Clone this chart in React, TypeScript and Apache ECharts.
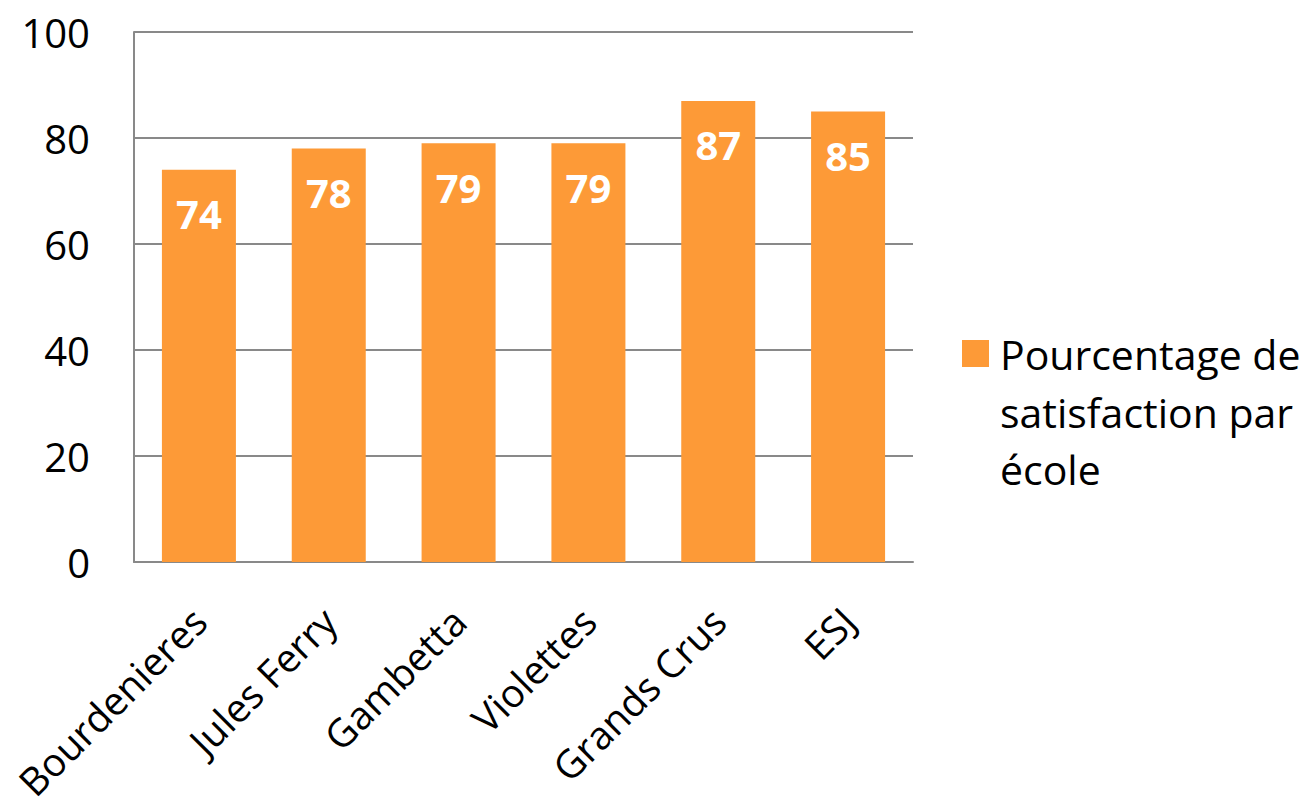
import React, { useEffect, useRef } from "react";
import * as echarts from "echarts";

const categories = ["Bourdenieres", "Jules Ferry", "Gambetta", "Violettes", "Grands Crus", "ESJ"];
const values = [74, 78, 79, 79, 87, 85];
const seriesName = "Pourcentage de satisfaction par école";
const legendLines = ["Pourcentage de", "satisfaction par", "école"];

const FONT = "'Open Sans', sans-serif";

export default function App() {
  const ref = useRef<HTMLDivElement>(null);
  useEffect(() => {
    if (!ref.current) return;
    const chart = echarts.init(ref.current, null, { renderer: "svg" });
    chart.setOption({
      animation: false,
      textStyle: { fontFamily: FONT },
      grid: { left: 134, top: 32, right: 399, bottom: 244, containLabel: false },
      legend: {
        show: true,
        left: 962,
        top: 333,
        padding: 0,
        orient: "vertical",
        icon: "rect",
        itemWidth: 27,
        itemHeight: 27,
        formatter: () => legendLines[0],
        textStyle: {
          fontFamily: FONT,
          fontSize: 41,
          color: "#000",
          padding: [0, 0, 0, 6],
        },
        data: [seriesName],
      },
      graphic: legendLines.slice(1).map((line, i) => ({
        type: "text",
        left: 1000,
        top: 391 + i * 57,
        style: { text: line, fontFamily: FONT, fontSize: 41, fill: "#000" },
      })),
      xAxis: {
        type: "category",
        data: categories,
        axisLine: { show: true, lineStyle: { color: "#898989", width: 2 } },
        axisTick: { show: false },
        axisLabel: {
          rotate: 45,
          interval: 0,
          margin: 52,
          fontSize: 39,
          color: "#000",
          fontFamily: FONT,
        },
      },
      yAxis: {
        type: "value",
        min: 0,
        max: 100,
        interval: 20,
        axisLine: { show: true, lineStyle: { color: "#898989", width: 2 } },
        axisTick: { show: false },
        splitLine: { show: true, lineStyle: { color: "#898989", width: 2 } },
        axisLabel: { margin: 44, fontSize: 40, color: "#000", fontFamily: FONT },
      },
      series: [
        {
          name: seriesName,
          type: "bar",
          data: values,
          barWidth: 74,
          itemStyle: { color: "#FD9A37" },
          label: {
            show: true,
            position: "insideTop",
            distance: 24,
            color: "#fff",
            fontWeight: "bold",
            fontSize: 40,
            fontFamily: FONT,
          },
        },
      ],
    });
    return () => chart.dispose();
  }, []);
  return (
    <div
      ref={ref}
      style={{ position: "absolute", left: 0, top: 0, width: 1312, height: 806 }}
    />
  );
}
